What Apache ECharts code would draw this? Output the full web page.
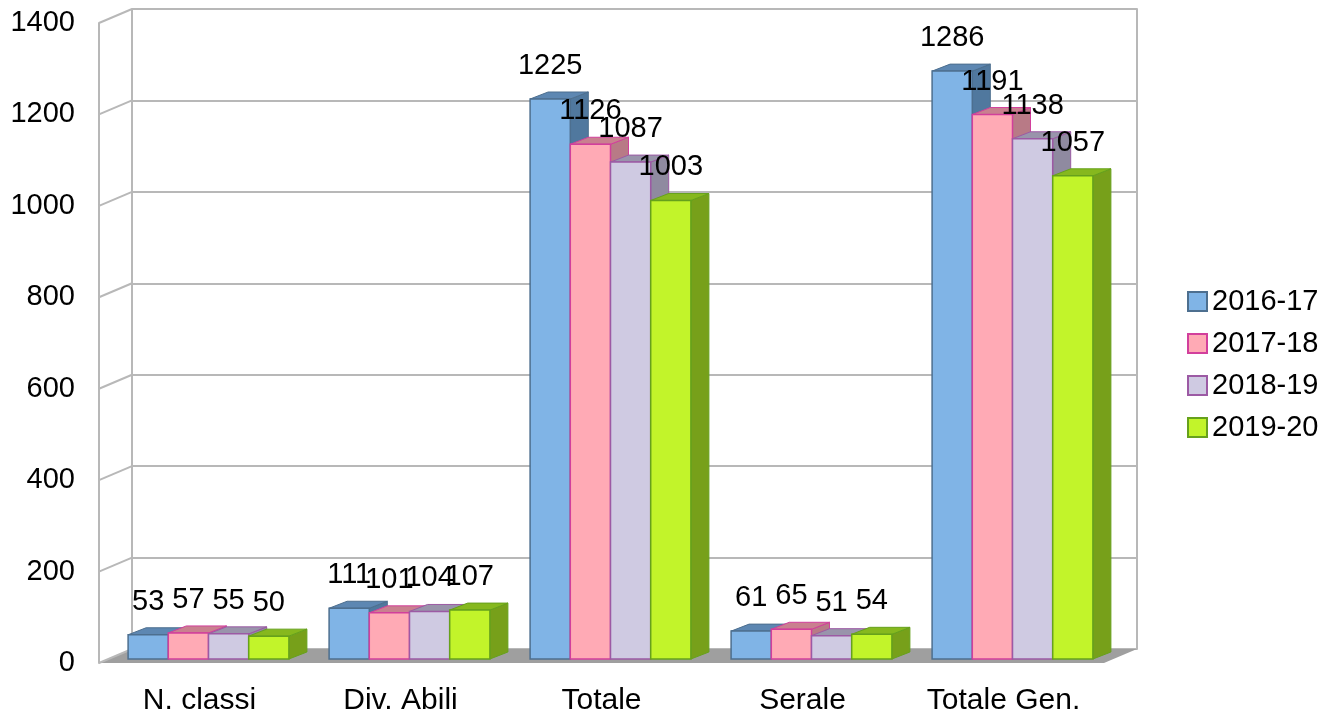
<!DOCTYPE html>
<html>
<head>
<meta charset="utf-8">
<script src="https://cdn.jsdelivr.net/npm/echarts@6/dist/echarts.min.js"></script>
<style>
  html, body { margin: 0; padding: 0; background: #fff; }
  #chart { width: 1342px; height: 718px; }
</style>
</head>
<body>
<div id="chart"></div>
<script>
// dati
const categories = ['N. classi', 'Div. Abili', 'Totale', 'Serale', 'Totale Gen.'];
const years = ['2016-17', '2017-18', '2018-19', '2019-20'];
const v2016 = [53, 111, 1225, 61, 1286];
const v2017 = [57, 101, 1126, 65, 1191];
const v2018 = [55, 104, 1087, 51, 1138];
const v2019 = [50, 107, 1003, 54, 1057];
const yTicks = [0, 200, 400, 600, 800, 1000, 1200, 1400];

const values = [v2016, v2017, v2018, v2019];

// colori: fronte, bordo, lato, sopra
const PAL = [
  { front: '#80b4e6', stroke: '#4d6f8f', side: '#50789e', top: '#5d87b2' },
  { front: '#ffaab5', stroke: '#d23f9c', side: '#b87a86', top: '#c9808f' },
  { front: '#cfcae2', stroke: '#9c5aa4', side: '#8f8aa0', top: '#9994ab' },
  { front: '#c2f42a', stroke: '#66a11c', side: '#77a01a', top: '#86b81e' }
];

const FAMILY = '"Liberation Sans", Arial, sans-serif';
const FONT = '29px ' + FAMILY;
// spostamento prospettico
const BX = 33, BY = -14;      // parete di fondo
const DX0 = 9, DY0 = -4;      // posizione della faccia frontale delle barre
const DX = 18, DY = -7;       // profondità barre

function barRender(si) {
  return function (params, api) {
    const cat = api.value(0), val = api.value(1);
    const bw = api.size([1, 0])[0];
    const c = api.coord([cat, val]);
    const b = api.coord([cat, 0]);
    const w = bw * 0.2;
    const x0 = c[0] - bw * 0.4 + si * w + DX0;
    const yt = c[1] + DY0, yb = b[1] + DY0;
    const p = PAL[si];
    return {
      type: 'group',
      children: [
        { type: 'polygon', shape: { points: [[x0 + w, yb], [x0 + w + DX, yb + DY], [x0 + w + DX, yt + DY], [x0 + w, yt]] },
          style: { fill: p.side, stroke: p.stroke, lineWidth: 1 } },
        { type: 'polygon', shape: { points: [[x0, yt], [x0 + w, yt], [x0 + w + DX, yt + DY], [x0 + DX, yt + DY]] },
          style: { fill: p.top, stroke: p.stroke, lineWidth: 1 } },
        { type: 'rect', shape: { x: x0, y: yt, width: w, height: yb - yt },
          style: { fill: p.front, stroke: p.stroke, lineWidth: 1.5 } },
        { type: 'text', x: x0 + w / 2, y: yt - 33, z2: 100,
          style: { text: String(val), fill: '#000', font: FONT, textAlign: 'center', textVerticalAlign: 'middle' } }
      ]
    };
  };
}

function wallRender(params, api) {
  const v = api.value(1);
  const bw = api.size([1, 0])[0];
  const p = api.coord([0, v]);
  const xl = p[0] - bw / 2;
  const children = [
    { type: 'line', shape: { x1: xl, y1: p[1], x2: xl + BX, y2: p[1] + BY },
      style: { stroke: '#b8b8b8', lineWidth: 2 } }
  ];
  if (params.dataIndex === 0) {
    const r = api.coord([categories.length - 1, 0]);
    const xr = r[0] + bw / 2;
    children.unshift({
      type: 'polygon',
      shape: { points: [[xl, p[1]], [xr, p[1]], [xr + BX, p[1] + BY], [xl + BX, p[1] + BY]] },
      style: { fill: '#9f9f9f' }
    });
  }
  return { type: 'group', children: children };
}

const series = [{
  type: 'custom',
  name: 'pareti',
  xAxisIndex: 0,
  yAxisIndex: 0,
  z: 1,
  silent: true,
  renderItem: wallRender,
  data: yTicks.map(t => [0, t])
}];

years.forEach((y, i) => {
  series.push({
    type: 'custom',
    name: y,
    xAxisIndex: 0,
    yAxisIndex: 0,
    z: 2,
    itemStyle: { color: PAL[i].front, borderColor: PAL[i].stroke, borderWidth: 1 },
    renderItem: barRender(i),
    encode: { x: 0, y: 1 },
    data: values[i].map((v, k) => [k, v])
  });
});

const chart = echarts.init(document.getElementById('chart'), null, { renderer: 'canvas' });
chart.setOption({
  animation: false,
  backgroundColor: '#ffffff',
  grid: [
    { left: 99, right: 238, top: 23, bottom: 55 },
    { left: 132, right: 205, top: 9, bottom: 69 }
  ],
  legend: {
    data: years,
    orient: 'vertical',
    left: 1182,
    top: 282,
    itemWidth: 19,
    itemHeight: 19,
    itemGap: 13,
    icon: 'rect',
    textStyle: { fontFamily: FAMILY, fontSize: 29, color: '#000' }
  },
  xAxis: [
    {
      type: 'category', gridIndex: 0, data: categories,
      axisLine: { show: false }, axisTick: { show: false },
      axisLabel: { fontFamily: FAMILY, fontSize: 30, color: '#000', margin: 23 }
    },
    { type: 'category', gridIndex: 1, data: categories, show: false }
  ],
  yAxis: [
    {
      type: 'value', gridIndex: 0, min: 0, max: 1400, interval: 200,
      axisLine: { show: true, lineStyle: { color: '#b8b8b8', width: 2 } },
      axisTick: { show: false },
      splitLine: { show: false },
      axisLabel: { fontFamily: FAMILY, fontSize: 29, color: '#000', margin: 24, formatter: v => String(v) }
    },
    {
      type: 'value', gridIndex: 1, min: 0, max: 1400, interval: 200,
      axisLine: { show: true, lineStyle: { color: '#b8b8b8', width: 2 } },
      axisTick: { show: false },
      axisLabel: { show: false },
      splitLine: { show: true, lineStyle: { color: '#b8b8b8', width: 2 } }
    },
    {
      type: 'value', gridIndex: 1, min: 0, max: 1400, interval: 200, position: 'right',
      axisLine: { show: true, lineStyle: { color: '#b8b8b8', width: 2 } },
      axisTick: { show: false },
      axisLabel: { show: false },
      splitLine: { show: false }
    }
  ],
  series: series
});
</script>
</body>
</html>
